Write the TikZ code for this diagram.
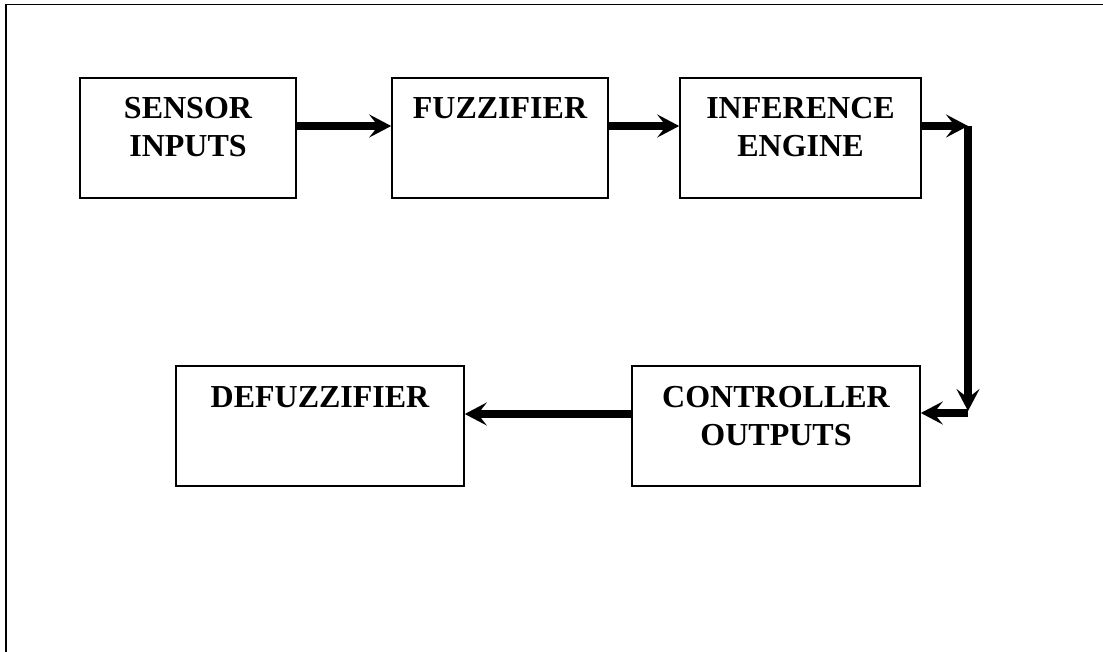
\documentclass[tikz,border=0pt]{standalone}
\usepackage{fontspec}
\setmainfont{Liberation Serif}
\usetikzlibrary{arrows.meta}
\tikzset{
  blockbox/.style={draw=black, line width=1.6pt, inner sep=0pt, minimum height=120pt},
  blocktext/.style={anchor=north, inner sep=0pt, align=center, font=\fontsize{32}{37.5}\selectfont\bfseries},
  flow/.style={line width=7.5pt, -{Stealth[length=22pt,width=23pt,inset=9pt]}},
  frameline/.style={line width=1.8pt, draw=black}
}
\begin{document}
\begin{tikzpicture}[x=1pt, y=-1pt]
\useasboundingbox (0,0) rectangle (1103,652);
\draw[frameline] (6,652) -- (6,4.5) -- (1103,4.5);

\node[blockbox, minimum width=216pt] (sensor) at (188,138) {};
\node[blockbox, minimum width=216pt] (fuzz) at (500,138) {};
\node[blockbox, minimum width=241pt] (infer) at (800.5,138) {};
\node[blockbox, minimum width=288pt] (ctrl) at (776,426) {};
\node[blockbox, minimum width=288pt] (defuzz) at (320,426) {};

\node[blocktext] (sensorT) at ([yshift=-20pt]sensor.north) {SENSOR\\INPUTS};
\node[blocktext] (fuzzT) at ([yshift=-20pt]fuzz.north) {FUZZIFIER};
\node[blocktext] (inferT) at ([yshift=-20pt]infer.north) {INFERENCE\\ENGINE};
\node[blocktext] (ctrlT) at ([yshift=-21pt]ctrl.north) {CONTROLLER\\OUTPUTS};
\node[blocktext] (defuzzT) at ([yshift=-21pt]defuzz.north) {DEFUZZIFIER};

\coordinate (c1) at (968,126);
\coordinate (c2) at (968,413);

\draw[flow] ([yshift=12pt]sensor.east) -- ([yshift=12pt]fuzz.west);
\draw[flow] ([yshift=12pt]fuzz.east) -- ([yshift=12pt]infer.west);
\draw[flow] ([yshift=12pt]infer.east) -- (c1);
\draw[flow] (c1) -- ([yshift=2pt]c2);
\draw[flow] (c2) -- ([yshift=13pt]ctrl.east);
\draw[flow] ([yshift=12pt]ctrl.west) -- ([yshift=12pt]defuzz.east);
\end{tikzpicture}
\end{document}
